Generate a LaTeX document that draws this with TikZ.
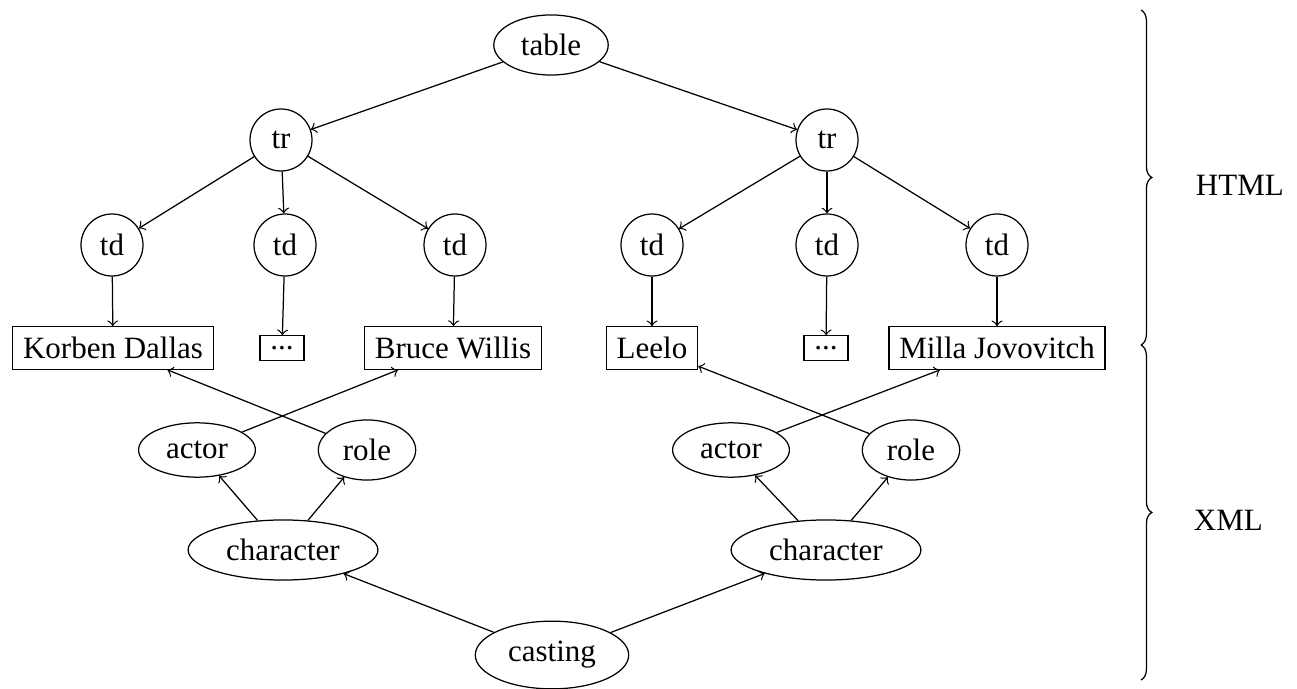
\documentclass[tikz,border=0pt]{standalone}
\usepackage{fontspec}
\setmainfont{Liberation Serif}
\usetikzlibrary{shapes.geometric,decorations.pathreplacing}
\begin{document}
\begin{tikzpicture}[x=0.3226pt,y=-0.3226pt,
  ell/.style={draw,ellipse},
  circ/.style={draw,circle,minimum size=20pt,inner sep=1pt},
  box/.style={draw,rectangle},
  arr/.style={->},
  brc/.style={draw,decorate,decoration={brace,amplitude=3.5pt}}]
\useasboundingbox (0,0) rectangle (1297,689);
% HTML tree
\node[ell] (table) at (551,45) {table};
\node[circ] (trL) at (281,140) {tr};
\node[circ] (trR) at (827,140) {tr};
\node[circ] (tdL1) at (112,245) {td};
\node[circ] (tdL2) at (285,245) {td};
\node[circ] (tdL3) at (455,245) {td};
\node[circ] (tdR1) at (652,245) {td};
\node[circ] (tdR2) at (827,245) {td};
\node[circ] (tdR3) at (997,245) {td};
\node[box] (korben) at (113,348) {Korben Dallas};
\node[box] (dotsL) at (282,348) {...};
\node[box] (bruce) at (453,348) {Bruce Willis};
\node[box] (leelo) at (652,348) {Leelo};
\node[box] (dotsR) at (826,348) {...};
\node[box] (milla) at (997,348) {Milla Jovovitch};
% XML tree
\node[ell] (actorL) at (197,450) {actor};
\node[ell] (roleL) at (367,450) {role};
\node[ell] (actorR) at (731,450) {actor};
\node[ell] (roleR) at (911,450) {role};
\node[ell] (charL) at (283,550) {character};
\node[ell] (charR) at (826,550) {character};
\node[ell] (casting) at (552,655) {casting};
% edges
\draw[arr] (table) -- (trL);
\draw[arr] (table) -- (trR);
\draw[arr] (trL) -- (tdL1);
\draw[arr] (trL) -- (tdL2);
\draw[arr] (trL) -- (tdL3);
\draw[arr] (trR) -- (tdR1);
\draw[arr] (trR) -- (tdR2);
\draw[arr] (trR) -- (tdR3);
\draw[arr] (tdL1) -- (korben);
\draw[arr] (tdL2) -- (dotsL);
\draw[arr] (tdL3) -- (bruce);
\draw[arr] (tdR1) -- (leelo);
\draw[arr] (tdR2) -- (dotsR);
\draw[arr] (tdR3) -- (milla);
\draw[arr] (actorL) -- (bruce);
\draw[arr] (roleL) -- (korben);
\draw[arr] (actorR) -- (milla);
\draw[arr] (roleR) -- (leelo);
\draw[arr] (charL) -- (actorL);
\draw[arr] (charL) -- (roleL);
\draw[arr] (charR) -- (actorR);
\draw[arr] (charR) -- (roleR);
\draw[arr] (casting) -- (charL);
\draw[arr] (casting) -- (charR);
% braces
\coordinate (b0) at (1141,10);
\coordinate (b1) at (1141,345);
\coordinate (b2) at (1141,680);
\draw[brc] (b0) -- (b1);
\draw[brc] (b1) -- (b2);
\node[anchor=west] (html) at (1185,185) {HTML};
\node[anchor=west] (xml) at (1183,520) {XML};
\end{tikzpicture}
\end{document}
